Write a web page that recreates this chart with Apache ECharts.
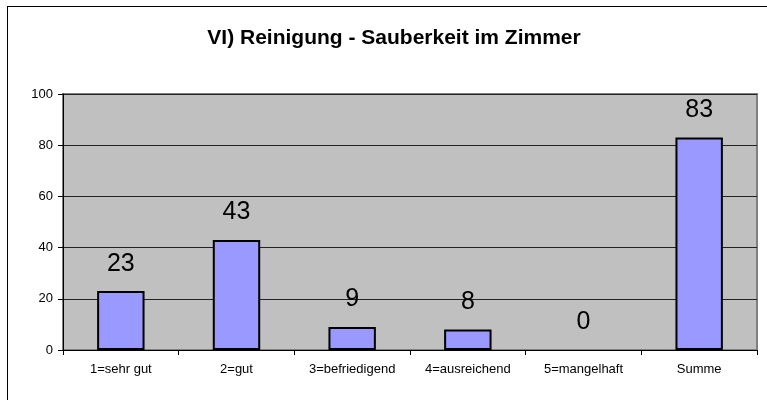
<!DOCTYPE html>
<html><head><meta charset="utf-8">
<script src="https://cdn.jsdelivr.net/npm/echarts@6/dist/echarts.min.js"></script>
<style>html,body{margin:0;padding:0;background:#fff}#c{width:767px;height:400px}
#frame{position:absolute;left:7px;top:6px;width:770px;height:400px;border:1.5px solid #000;box-sizing:border-box;pointer-events:none}</style>
</head><body><div id="c"></div><div id="frame"></div>
<script>
var categories = ['1=sehr gut', '2=gut', '3=befriedigend', '4=ausreichend', '5=mangelhaft', 'Summe'];
var values = [23, 43, 9, 8, 0, 83];
var yTicks = [0, 20, 40, 60, 80, 100];
var title = 'VI) Reinigung - Sauberkeit im Zimmer';

var chart = echarts.init(document.getElementById('c'), null, {renderer: 'canvas'});
chart.setOption({
  animation: false,
  textStyle: {fontFamily: 'Liberation Sans, Arial, sans-serif'},
  title: {text: title, left: 389, top: 23, textAlign: 'center',
    textStyle: {fontSize: 21, fontWeight: 'bold', color: '#000', fontFamily: 'Liberation Sans, Arial, sans-serif'}},
  grid: {left: 63, right: 10, top: 94, bottom: 50, show: true, backgroundColor: '#C0C0C0', borderColor: '#808080', borderWidth: 2},
  xAxis: {type: 'category', data: categories,
    axisLine: {lineStyle: {color: '#000', width: 1}},
    axisTick: {show: true, length: 5, lineStyle: {color: '#000'}},
    axisLabel: {fontSize: 13, color: '#000', margin: 13, interval: 0},
    splitLine: {show: false}},
  yAxis: {type: 'value', min: yTicks[0], max: yTicks[yTicks.length-1], interval: 20,
    axisLine: {show: true, lineStyle: {color: '#000', width: 1}},
    axisTick: {show: true, length: 5, lineStyle: {color: '#000'}},
    axisLabel: {fontSize: 13, color: '#000', margin: 10},
    splitLine: {show: true, lineStyle: {color: '#222', width: 1}}},
  series: [{type: 'bar', barWidth: '41%',
    data: values.map(function (v) { return v === 0 ? {value: v, itemStyle: {borderWidth: 0}} : v; }),
    itemStyle: {color: '#9999FF', borderColor: '#000', borderWidth: 2},
    label: {show: true, position: 'top', distance: 15, fontSize: 25, color: '#000'}}]
});
</script></body></html>
